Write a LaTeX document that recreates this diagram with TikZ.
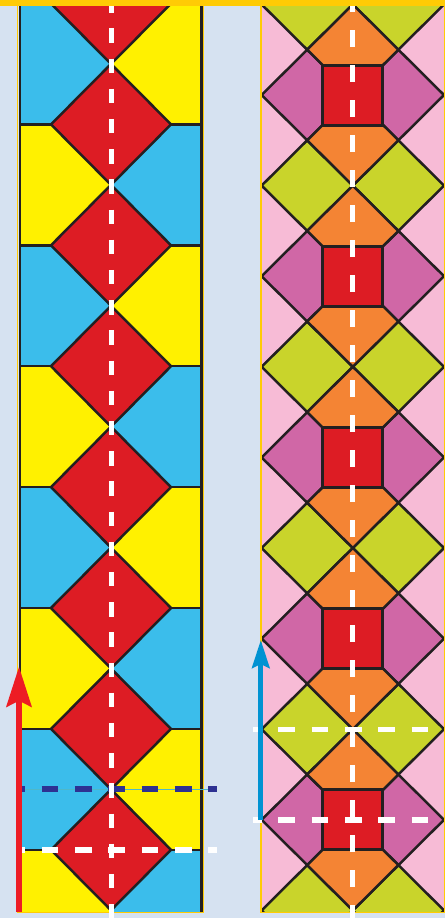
\documentclass[tikz,border=0pt]{standalone}
\usetikzlibrary{arrows.meta}
\definecolor{bgblue}{HTML}{D6E2F1}
\definecolor{goldc}{HTML}{FFCB05}
\definecolor{cellblue}{HTML}{3BBDEB}
\definecolor{cellyellow}{HTML}{FFF100}
\definecolor{cellred}{HTML}{DD1C24}
\definecolor{inkc}{HTML}{231F20}
\definecolor{pinkc}{HTML}{F7BBD6}
\definecolor{magc}{HTML}{D067A6}
\definecolor{limec}{HTML}{C9D42B}
\definecolor{orangec}{HTML}{F48434}
\definecolor{arrowred}{HTML}{ED1C24}
\definecolor{arrowblue}{HTML}{0092D2}
\definecolor{navyc}{HTML}{2E3192}
\definecolor{tealc}{HTML}{4FB8C8}
\tikzset{
  edge/.style={draw=inkc, line width=2.5pt, line join=miter},
  goldline/.style={draw=goldc, line width=1.6pt},
  hdash/.style={line width=5.2pt, dash pattern=on 16.7pt off 16.6pt},
  vdash/.style={line width=5pt},
  bigarrow/.style={line width=5.8pt}
}
\begin{document}
\begin{tikzpicture}[x=1pt,y=-1pt]
\useasboundingbox (0,0) rectangle (445,918);
\fill[bgblue] (0,0) rectangle (445,918);
% ---------------- left strip ----------------
\def\p{120.9}
\def\yo{3.5}
\begin{scope}
\clip (20,0) rectangle (202,912);
\foreach \k in {0,...,7}{
  \pgfmathsetmacro\ya{\yo+\k*\p}
  \pgfmathsetmacro\yb{\ya+\p}
  \ifodd\k
    \fill[cellyellow] (20,\ya) rectangle (111,\yb);
    \fill[cellblue] (111,\ya) rectangle (202,\yb);
  \else
    \fill[cellblue] (20,\ya) rectangle (111,\yb);
    \fill[cellyellow] (111,\ya) rectangle (202,\yb);
  \fi
}
\foreach \k in {0,...,7}{
  \pgfmathsetmacro\ya{\yo+\k*\p}
  \pgfmathsetmacro\yt{\ya-\p/2}
  \pgfmathsetmacro\yd{\ya+\p/2}
  \filldraw[fill=cellred, edge] (51,\ya) -- (111,\yt) -- (171,\ya) -- (111,\yd) -- cycle;
  \draw[edge] (20,\ya) -- (51,\ya) (171,\ya) -- (202,\ya);
}
\end{scope}
\draw[inkc, line width=2.6pt] (19.9,0) -- (19.9,911.5);
\draw[inkc, line width=2.6pt] (201.3,0) -- (201.3,911.5);
\draw[goldline] (17.6,0) -- (17.6,912.4) -- (203.3,912.4) -- (203.3,0);
% ---------------- right strip ----------------
\def\hx{45.6}
\def\hy{45.3}
\begin{scope}
\clip (261.5,0) rectangle (444,912);
\fill[pinkc] (261.5,0) rectangle (444,912);
\foreach \k in {0,...,5}{
  \pgfmathsetmacro\yl{4.4+\k*181.2}
  \foreach \cx in {307.2,398.4}{
    \filldraw[fill=limec, edge] (\cx-\hx,\yl) -- (\cx,\yl-\hy) -- (\cx+\hx,\yl) -- (\cx,\yl+\hy) -- cycle;
  }
}
\foreach \k in {0,...,4}{
  \pgfmathsetmacro\ym{95+\k*181.2}
  \foreach \cx in {307.2,398.4}{
    \filldraw[fill=magc, edge] (\cx-\hx,\ym) -- (\cx,\ym-\hy) -- (\cx+\hx,\ym) -- (\cx,\ym+\hy) -- cycle;
  }
  \foreach \oy in {-45.3,45.3}{
    \pgfmathsetmacro\yy{\ym+\oy}
    \filldraw[fill=orangec, edge] (352.8-\hx,\yy) -- (352.8,\yy-\hy) -- (352.8+\hx,\yy) -- (352.8,\yy+\hy) -- cycle;
  }
  \filldraw[fill=cellred, draw=inkc, line width=3pt] (322.8,\ym-30) rectangle (382.8,\ym+30);
}
\end{scope}
\draw[goldline] (261.2,0) -- (261.2,912.4) -- (444.3,912.4) -- (444.3,0);
% ---------------- guide lines ----------------
\coordinate (nvA) at (22,789);
\coordinate (nvB) at (216.7,789);
\coordinate (whA) at (22,850);
\coordinate (whB) at (216.7,850);
\coordinate (rtA) at (253.3,729.3);
\coordinate (rtB) at (428.3,729.3);
\coordinate (rbA) at (253.3,820);
\coordinate (rbB) at (428.3,820);
\coordinate (vlT) at (111,0);
\coordinate (vlB) at (111,918);
\coordinate (vrT) at (352.8,0);
\coordinate (vrB) at (352.8,918);
\draw[tealc, line width=0.5pt] (nvA) -- (nvB);
\draw[navyc, hdash, dash phase=13.7pt] (nvA) -- (nvB);
\draw[white, vdash, dash pattern=on 14.5pt off 15.7pt, dash phase=1.9pt] (vlT) -- (vlB);
\draw[white, vdash, dash pattern=on 17pt off 18pt, dash phase=5pt] (vrT) -- (vrB);
\draw[white, hdash, dash phase=13.7pt] (whA) -- (whB);
\draw[white, hdash, dash phase=8.3pt] (rtA) -- (rtB);
\draw[white, hdash, dash phase=8.3pt] (rbA) -- (rbB);
% ---------------- arrows ----------------
\coordinate (raS) at (19,912);
\coordinate (raT) at (19,666.7);
\coordinate (baS) at (260.8,820);
\coordinate (baT) at (260.8,640);
\draw[arrowred, bigarrow, -{Stealth[length=40pt,width=25pt,inset=6pt]}] (raS) -- (raT);
\draw[arrowblue, line width=5pt, -{Stealth[length=28pt,width=17.5pt,inset=4pt]}] (baS) -- (baT);
% ---------------- top bar ----------------
\fill[goldc] (0,0) rectangle (445,5.5);
\end{tikzpicture}
\end{document}
